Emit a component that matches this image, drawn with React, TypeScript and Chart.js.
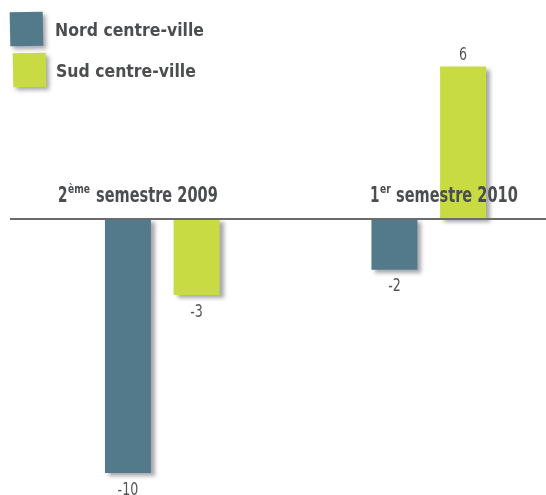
import React, { useEffect, useRef } from "react";
import { Chart, registerables } from "chart.js";

Chart.register(...registerables);

// ---- data ----
const categories = ["2ème semestre 2009", "1er semestre 2010"];
const categoryMain = ["2", "1"];
const categorySup = ["ème", "er"];
const categoryRest = ["semestre 2009", "semestre 2010"];
const seriesNames = ["Nord centre-ville", "Sud centre-ville"];
const nordValues = [-10, -2];
const sudValues = [-3, 6];
const seriesColors = ["#527a8a", "#c8db42"];

const W = 546;
const H = 495;
const CANVAS_W = 562;
const TEXT_DARK = "#4b4d4f";
const BOLD_FONT = '"DejaVu Sans Condensed", "DejaVu Sans", sans-serif';
const LIGHT_FONT = '"DejaVu Sans Condensed", "DejaVu Sans", sans-serif';

function drawScaled(ctx: CanvasRenderingContext2D, text: string, x: number, y: number, sx: number) {
  ctx.save();
  ctx.translate(x, y);
  ctx.scale(sx, 1);
  ctx.fillText(text, 0, 0);
  const w = ctx.measureText(text).width * sx;
  ctx.restore();
  return w;
}

const overlayPlugin = {
  id: "overlay",
  beforeDatasetsDraw(chart: any) {
    const ctx = chart.ctx as CanvasRenderingContext2D;
    ctx.save();
    ctx.shadowColor = "rgba(60,60,70,0.45)";
    ctx.shadowBlur = 4;
    ctx.shadowOffsetX = 4;
    ctx.shadowOffsetY = 3;
  },
  afterDatasetsDraw(chart: any) {
    const ctx = chart.ctx as CanvasRenderingContext2D;
    ctx.restore();
    const y0 = chart.scales.y.getPixelForValue(0);

    // zero line
    ctx.save();
    ctx.strokeStyle = "#6b6b6b";
    ctx.lineWidth = 2;
    ctx.beginPath();
    ctx.moveTo(10, y0);
    ctx.lineTo(W, y0);
    ctx.stroke();
    ctx.restore();

    // value labels
    ctx.save();
    ctx.fillStyle = "#555555";
    ctx.font = `300 18px ${LIGHT_FONT}`;
    chart.data.datasets.forEach((ds: any, di: number) => {
      const meta = chart.getDatasetMeta(di);
      meta.data.forEach((el: any, i: number) => {
        const v = ds.data[i];
        const txt = String(v);
        const sx = 0.78;
        const w = ctx.measureText(txt).width * sx;
        if (v >= 0) {
          ctx.textBaseline = "alphabetic";
          drawScaled(ctx, txt, el.x - w / 2, el.y - 7, sx);
        } else {
          ctx.textBaseline = "top";
          drawScaled(ctx, txt, el.x - w / 2, el.y + 8, sx);
        }
      });
    });
    ctx.restore();

    // category labels
    const catLeft = [58, 370];
    const restLeft = [96, 396];
    ctx.save();
    ctx.fillStyle = TEXT_DARK;
    ctx.textBaseline = "alphabetic";
    categories.forEach((_c, i) => {
      let x = catLeft[i];
      const base = 202;
      ctx.font = `bold 21px ${BOLD_FONT}`;
      x += drawScaled(ctx, categoryMain[i], x, base, 0.72) + 0.5;
      ctx.font = `bold 12px ${BOLD_FONT}`;
      drawScaled(ctx, categorySup[i], x, base - 9, 0.85);
      ctx.font = `bold 21px ${BOLD_FONT}`;
      drawScaled(ctx, categoryRest[i], restLeft[i], base, 0.77);
    });
    ctx.restore();

    // legend
    const boxes = [
      { x: 10, y: 12, rot: -0.02 },
      { x: 13, y: 53, rot: -0.02 },
    ];
    const textPos = [
      { x: 55, y: 36 },
      { x: 56, y: 77 },
    ];
    seriesNames.forEach((name, i) => {
      const b = boxes[i];
      ctx.save();
      ctx.translate(b.x + 16.5, b.y + 17);
      ctx.rotate(b.rot);
      ctx.shadowColor = "rgba(60,60,70,0.45)";
      ctx.shadowBlur = 4;
      ctx.shadowOffsetX = 3;
      ctx.shadowOffsetY = 3;
      ctx.fillStyle = seriesColors[i];
      ctx.fillRect(-16.5, -17, 33, 34);
      ctx.restore();
      ctx.save();
      ctx.fillStyle = TEXT_DARK;
      ctx.font = `bold 18px ${BOLD_FONT}`;
      ctx.textBaseline = "alphabetic";
      drawScaled(ctx, name, textPos[i].x, textPos[i].y, 0.97);
      ctx.restore();
    });
  },
};

export default function App() {
  const ref = useRef<HTMLCanvasElement | null>(null);
  useEffect(() => {
    if (!ref.current) return;
    const chart = new Chart(ref.current, {
      type: "bar",
      data: {
        labels: categories,
        datasets: [
          {
            label: seriesNames[0],
            data: nordValues,
            backgroundColor: seriesColors[0],
            borderWidth: 0,
          },
          {
            label: seriesNames[1],
            data: sudValues,
            backgroundColor: seriesColors[1],
            borderWidth: 0,
          },
        ],
      },
      options: {
        responsive: false,
        animation: false,
        events: [],
        layout: { padding: { left: 29, right: 0, top: 0, bottom: 0 } },
        categoryPercentage: 0.515,
        barPercentage: 0.67,
        plugins: {
          legend: { display: false },
          tooltip: { enabled: false },
        },
        scales: {
          x: { type: "category", display: false, offset: true },
          y: { type: "linear", display: false, min: -10.87, max: 8.62 },
        },
      } as any,
      plugins: [overlayPlugin],
    });
    return () => chart.destroy();
  }, []);
  return (
    <div style={{ position: "absolute", left: 0, top: 0, width: W, height: H, overflow: "hidden", background: "#fff" }}>
      <canvas ref={ref} width={CANVAS_W} height={H} style={{ display: "block" }} />
    </div>
  );
}
